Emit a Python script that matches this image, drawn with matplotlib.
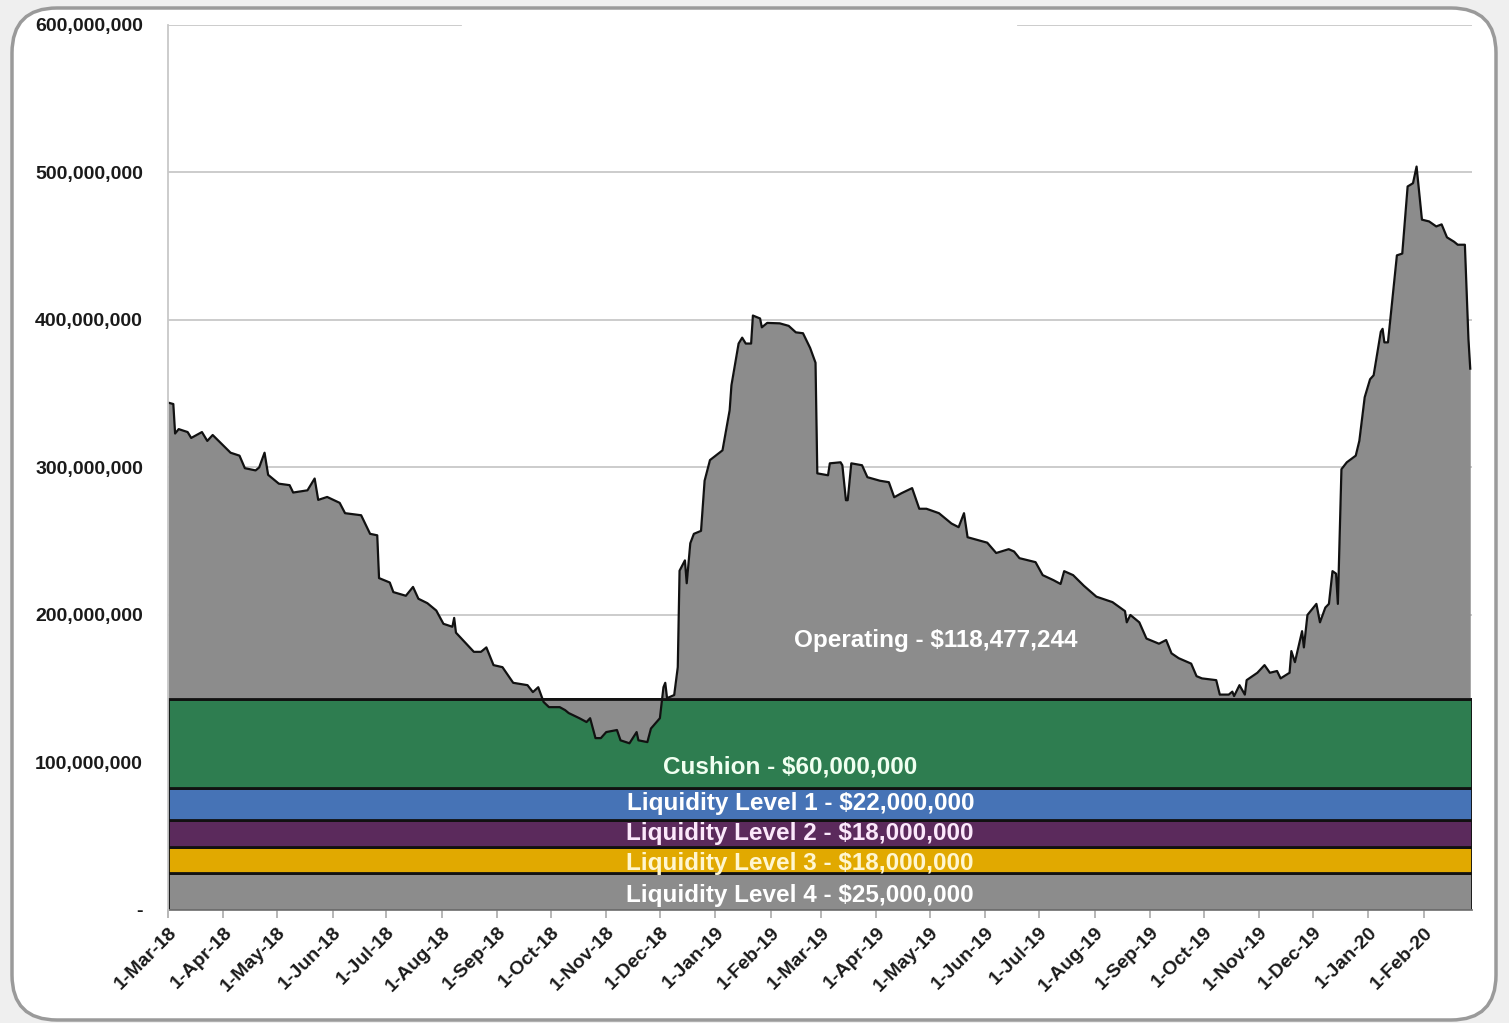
import pandas as pd
import numpy as np
import matplotlib
matplotlib.use("Agg")
import matplotlib.pyplot as plt
import matplotlib.dates as mdates
from matplotlib.patches import FancyBboxPatch
from matplotlib.ticker import FuncFormatter, MultipleLocator

plt.rcParams['font.family'] = ['Liberation Sans', 'DejaVu Sans']
plt.rcParams['font.weight'] = 'bold'

# DATA
###############################################################################
# daily cash balance (millions)
dates = ['2018-03-01', '2018-03-04', '2018-03-05', '2018-03-07', '2018-03-12', '2018-03-14',
         '2018-03-20', '2018-03-23', '2018-03-26', '2018-04-05', '2018-04-10', '2018-04-13',
         '2018-04-19', '2018-04-21', '2018-04-24', '2018-04-26', '2018-05-02', '2018-05-08',
         '2018-05-10', '2018-05-18', '2018-05-22', '2018-05-24', '2018-05-29', '2018-06-05',
         '2018-06-08', '2018-06-17', '2018-06-22', '2018-06-26', '2018-06-27', '2018-07-03',
         '2018-07-05', '2018-07-12', '2018-07-16', '2018-07-19', '2018-07-24', '2018-07-29',
         '2018-08-02', '2018-08-07', '2018-08-08', '2018-08-09', '2018-08-19', '2018-08-23',
         '2018-08-26', '2018-08-30', '2018-09-04', '2018-09-10', '2018-09-18', '2018-09-21',
         '2018-09-24', '2018-09-27', '2018-09-30', '2018-10-06', '2018-10-09', '2018-10-11',
         '2018-10-17', '2018-10-21', '2018-10-23', '2018-10-26', '2018-10-29', '2018-11-01',
         '2018-11-07', '2018-11-09', '2018-11-14', '2018-11-18', '2018-11-19', '2018-11-24',
         '2018-11-26', '2018-12-01', '2018-12-03', '2018-12-04', '2018-12-05', '2018-12-09',
         '2018-12-11', '2018-12-12', '2018-12-15', '2018-12-16', '2018-12-18', '2018-12-20',
         '2018-12-24', '2018-12-26', '2018-12-29', '2019-01-05', '2019-01-09', '2019-01-10',
         '2019-01-14', '2019-01-16', '2019-01-18', '2019-01-21', '2019-01-22', '2019-01-26',
         '2019-01-27', '2019-01-30', '2019-02-06', '2019-02-11', '2019-02-15', '2019-02-19',
         '2019-02-23', '2019-02-26', '2019-02-27', '2019-03-05', '2019-03-06', '2019-03-12',
         '2019-03-13', '2019-03-15', '2019-03-16', '2019-03-18', '2019-03-24', '2019-03-27',
         '2019-04-03', '2019-04-08', '2019-04-11', '2019-04-15', '2019-04-21', '2019-04-25',
         '2019-04-29', '2019-05-06', '2019-05-13', '2019-05-17', '2019-05-20', '2019-05-22',
         '2019-06-02', '2019-06-07', '2019-06-14', '2019-06-17', '2019-06-20', '2019-06-29',
         '2019-07-03', '2019-07-09', '2019-07-13', '2019-07-15', '2019-07-20', '2019-07-26',
         '2019-08-02', '2019-08-11', '2019-08-18', '2019-08-19', '2019-08-21', '2019-08-26',
         '2019-08-30', '2019-09-06', '2019-09-10', '2019-09-13', '2019-09-17', '2019-09-24',
         '2019-09-27', '2019-09-30', '2019-10-08', '2019-10-10', '2019-10-15', '2019-10-17',
         '2019-10-18', '2019-10-21', '2019-10-24', '2019-10-25', '2019-10-31', '2019-11-04',
         '2019-11-07', '2019-11-11', '2019-11-13', '2019-11-18', '2019-11-19', '2019-11-21',
         '2019-11-25', '2019-11-26', '2019-11-28', '2019-12-03', '2019-12-05', '2019-12-08',
         '2019-12-10', '2019-12-12', '2019-12-14', '2019-12-15', '2019-12-17', '2019-12-20',
         '2019-12-25', '2019-12-27', '2019-12-30', '2020-01-02', '2020-01-04', '2020-01-08',
         '2020-01-09', '2020-01-10', '2020-01-12', '2020-01-17', '2020-01-20', '2020-01-23',
         '2020-01-26', '2020-01-28', '2020-01-31', '2020-02-04', '2020-02-08', '2020-02-11',
         '2020-02-14', '2020-02-18', '2020-02-20', '2020-02-24', '2020-02-26', '2020-02-27']

balance = [344, 343, 323, 326, 324, 320,
           324, 318, 322, 310, 308, 299.5,
           298, 300, 310, 295, 289, 288,
           283, 284.5, 292.5, 278, 280, 276,
           269, 267.6, 255, 254, 225, 222,
           215.5, 213, 219, 211, 208, 203,
           194, 192, 198, 188, 175, 175,
           178, 166, 164.6, 154, 152.4, 147.7,
           151, 141, 137.5, 137.5, 135.5, 133.5,
           130, 127.4, 130, 116.5, 116.5, 120.6,
           122, 115, 113, 120.6, 115, 113.8,
           123, 130, 151, 154, 143.6, 145.7,
           164.6, 230, 237, 221.5, 248.6, 255,
           257, 291, 305, 311.6, 338.8, 355.7,
           384, 388, 384, 384, 403, 401,
           395, 398, 397.7, 396, 391.6, 391,
           381, 371, 296, 294.7, 302.8, 303.5,
           301.5, 277.8, 277.8, 302.8, 301.5, 293.4,
           291, 290, 279.8, 282.5, 286, 272,
           272, 269, 262, 259.5, 269, 252.7,
           249, 242, 244.6, 243, 238.5, 235.8,
           227, 223.6, 221, 229.7, 227, 219.8,
           212.4, 208.7, 202.6, 195, 200, 195,
           184, 180.5, 183, 174, 170.7, 167,
           158.5, 157, 155.8, 146, 146, 148,
           145, 152.4, 146, 155.8, 160.8, 166,
           160.8, 162, 157, 160.8, 175.5, 168,
           189, 178, 200, 207.5, 195, 205,
           207.5, 229.7, 228, 207.5, 298.8, 303.5,
           308, 318, 347.6, 359.8, 362.5, 392,
           394, 384.8, 384.8, 443.8, 445, 490.5,
           492.7, 504, 468, 466.8, 463.4, 464.8,
           456, 453, 451, 451, 387, 367]

# liquidity layers, bottom to top (millions)
band_names = ['Liquidity Level 4 - $25,000,000', 'Liquidity Level 3 - $18,000,000',
              'Liquidity Level 2 - $18,000,000', 'Liquidity Level 1 - $22,000,000',
              'Cushion - $60,000,000']
band_sizes = [25, 18, 18, 22, 60]
band_colors = ['#8c8c8c', '#e1a900', '#5b2a5c', '#4673b6', '#2e7d50']
band_text_colors = ['white', '#fff6d0', '#fbe8fb', 'white', '#f0fff0']
operating_label = 'Operating - $118,477,244'
###############################################################################

x = pd.to_datetime(dates)
y = np.array(balance) * 1e6
tops = np.cumsum(band_sizes) * 1e6
bottoms = tops - np.array(band_sizes) * 1e6
cushion_top = tops[-1]

fig = plt.figure(figsize=(15.09, 10.23), dpi=100, facecolor='#efefef')
# rounded white frame around the chart
frame = FancyBboxPatch((12, 3), 1484, 1012, boxstyle='round,pad=0,rounding_size=45',
                       transform=None, facecolor='white', edgecolor='#9a9a9a', lw=2.5, zorder=-10)
fig.patches.append(frame)

ax = fig.add_axes([0.1113, 0.1105, 0.8642, 0.8651])
ax.set_zorder(1)
ax.set_facecolor('none')

x0 = pd.Timestamp('2018-03-01')
x1 = pd.Timestamp('2020-02-28')
ax.set_xlim(x0, x1)
ax.set_ylim(0, 600e6)

# grid
for g in range(1, 6):
    ax.axhline(g * 100e6, color='#c8c8c8', lw=1.3, zorder=0)
ax.axhline(600e6, xmin=0, xmax=0.225, color='#c8c8c8', lw=1.3, zorder=0)
ax.axhline(600e6, xmin=0.652, xmax=1, color='#c8c8c8', lw=1.3, zorder=0)

# liquidity bands
for lo, hi, c in zip(bottoms, tops, band_colors):
    ax.axhspan(lo, hi, facecolor=c, edgecolor='#111111', lw=2, zorder=1)

# operating cash: area between balance and top of cushion
ax.fill_between(x, y, cushion_top, color='#8c8c8c', lw=0, zorder=2)
ax.axhline(cushion_top, color='#111111', lw=2, zorder=3)
ax.plot(x, y, color='#111111', lw=1.6, zorder=4)

# labels
band_label_x = ['2019-02-17', '2019-02-17', '2019-02-17', '2019-02-18', '2019-02-12']
band_label_y = [10e6, 31.5e6, 51.5e6, 72.5e6, 97e6]
for name, lx, ly, tc in zip(band_names, band_label_x, band_label_y, band_text_colors):
    ax.text(pd.Timestamp(lx), ly, name, color=tc, fontsize=17.5, fontweight='bold',
            ha='center', va='center', zorder=5)
ax.text(pd.Timestamp('2019-05-04'), 183e6, operating_label, color='white',
        fontsize=17.5, fontweight='bold', ha='center', va='center', zorder=5)

# axes styling
for s in ['top', 'right']:
    ax.spines[s].set_visible(False)
ax.spines['left'].set_color('#c8c8c8')
ax.spines['left'].set_linewidth(1.3)
ax.spines['bottom'].set_color('#777777')
ax.spines['bottom'].set_linewidth(1.3)
ax.spines['left'].set_zorder(6)

ax.yaxis.set_major_locator(MultipleLocator(100e6))
ax.yaxis.set_major_formatter(FuncFormatter(lambda v, p: '-' if v == 0 else f'{v:,.0f}'))
ax.tick_params(axis='y', length=0, pad=18, labelsize=14, labelcolor='#1a1a1a')

ax.xaxis.set_major_locator(mdates.MonthLocator())
ax.xaxis.set_major_formatter(FuncFormatter(
    lambda v, p: f"{mdates.num2date(v).day}-{mdates.num2date(v).strftime('%b-%y')}"))
ax.tick_params(axis='x', length=6, width=1.2, color='#aaaaaa', pad=4,
               labelsize=14, labelcolor='#1a1a1a')
for lab in ax.get_xticklabels():
    lab.set_rotation(45)
    lab.set_ha('right')
    lab.set_rotation_mode('anchor')

fig.savefig('out.png', dpi=100, facecolor=fig.get_facecolor())
